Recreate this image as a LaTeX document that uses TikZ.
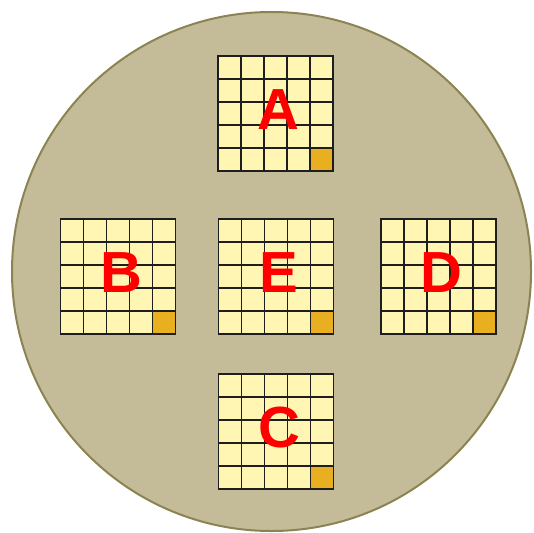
\documentclass[tikz,border=0pt]{standalone}
\usepackage{fontspec}
\setmainfont{Liberation Sans}
\usetikzlibrary{calc}
\definecolor{dish}{HTML}{C4BC98}
\definecolor{dishrim}{HTML}{8C8352}
\definecolor{cellfill}{HTML}{FFF6B4}
\definecolor{hotcell}{HTML}{E8B021}
\definecolor{gridink}{HTML}{1E1E1E}

\begin{document}
\begin{tikzpicture}[x=1pt,y=-1pt,
  die/.style={draw=gridink,fill=cellfill,line width=1.4pt,minimum size=115pt,inner sep=0pt,outer sep=0pt},
  gridline/.style={draw=gridink,line width=1.4pt},
  tag/.style={text=red,font=\fontsize{58}{58}\selectfont\bfseries,inner sep=0pt}
]
\useasboundingbox (0,0) rectangle (534,532);
\node[circle,draw=dishrim,fill=dish,line width=2pt,minimum size=519pt,inner sep=0pt] (dish) at (271.5,271.5) {};
% five 5x5 dies, hot cell bottom right
\foreach \n/\cx/\cy in {A/275.5/113.5,B/118/276.5,E/276/276.5,D/438.5/276.5,C/276/431.5}{
  \node[die] (g\n) at (\cx,\cy) {};
  \fill[hotcell] (g\n.south east) rectangle ++(-23,-23);
  \foreach \k in {1,...,4}{
    \draw[gridline] ($(g\n.north west)+(23*\k,0)$) -- ($(g\n.south west)+(23*\k,0)$);
    \draw[gridline] ($(g\n.north west)+(0,23*\k)$) -- ($(g\n.north east)+(0,23*\k)$);
  }
  \draw[gridline] (g\n.north west) rectangle (g\n.south east);
  \node[tag] (t\n) at ($(g\n)+(3,-4)$) {\n};
}
\end{tikzpicture}
\end{document}
